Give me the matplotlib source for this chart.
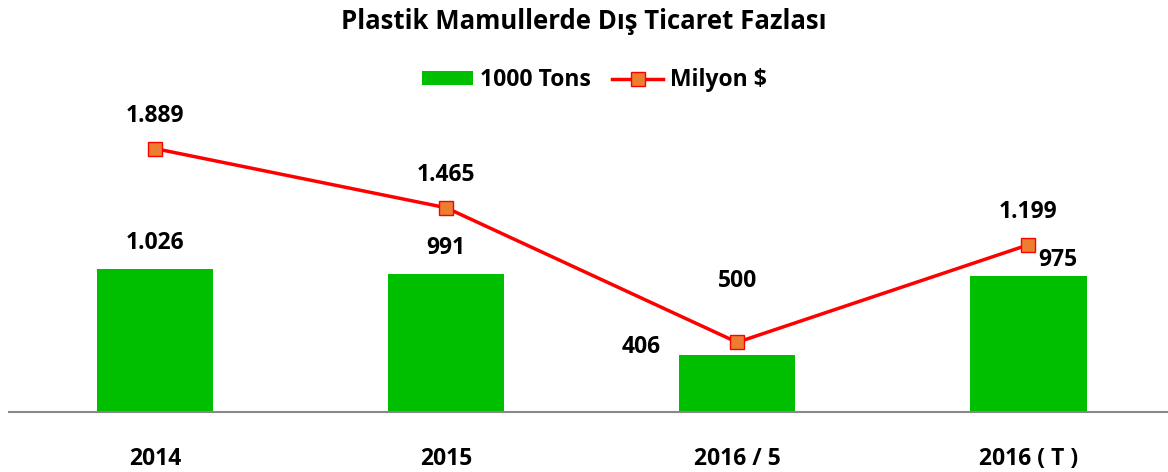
import matplotlib
matplotlib.use("Agg")
import matplotlib.pyplot as plt

categories = ["2014", "2015", "2016 / 5", "2016 ( T )"]
tons = [1026, 991, 406, 975]
milyon = [1889, 1465, 500, 1199]
tons_labels = ["1.026", "991", "406", "975"]
milyon_labels = ["1.889", "1.465", "500", "1.199"]

plt.rcParams['font.family'] = ['Open Sans', 'DejaVu Sans']
plt.rcParams['font.weight'] = 'bold'

fig = plt.figure(figsize=(11.68, 4.72), dpi=100)
ax = fig.add_axes([0.008, 0.127, 0.997, 0.672])

x = list(range(len(categories)))
bars = ax.bar(x, tons, width=0.4, color='#00BF00', label='1000 Tons', zorder=2)
line, = ax.plot(x, milyon, color='#FF0000', lw=2.5, marker='s', markersize=10,
                markerfacecolor='#ED7D31', markeredgecolor='#FF0000', markeredgewidth=1,
                label='Milyon $', zorder=3)

ax.set_xlim(-0.5, 3.5)
ax.set_ylim(0, 2274)

fs = 16.5

# bar value labels
offsets_bar = [(0, 26), (0, 26), (-0.33, 8), (0.1, 16)]
for i, (v, lab) in enumerate(zip(tons, tons_labels)):
    dx, dy = offsets_bar[i]
    ax.annotate(lab, (i + dx, v), xytext=(0, dy), textcoords='offset pixels',
                ha='center', va='center', fontsize=fs, fontweight='bold')

# line value labels
offsets_line = [33, 33, 61, 33]
for i, (v, lab) in enumerate(zip(milyon, milyon_labels)):
    ax.annotate(lab, (i, v), xytext=(0, offsets_line[i]), textcoords='offset pixels',
                ha='center', va='center', fontsize=fs, fontweight='bold')

for s in ['top', 'right', 'left']:
    ax.spines[s].set_visible(False)
ax.spines['bottom'].set_color('#888888')
ax.spines['bottom'].set_linewidth(1.5)
ax.set_yticks([])
ax.set_xticks(x)
ax.set_xticklabels(categories, fontsize=fs, fontweight='bold')
ax.tick_params(axis='x', length=0, pad=25)

fig.text(0.5, 0.955, "Plastik Mamullerde Dış Ticaret Fazlası", ha='center', va='center',
         fontsize=18.5, fontweight='bold')

fig.legend([bars, line], ['1000 Tons', 'Milyon $'], loc='center',
           bbox_to_anchor=(0.509, 0.83), ncol=2, frameon=False,
           handlelength=2.2, handleheight=0.6, handletextpad=0.3, columnspacing=0.95,
           prop={'weight': 'bold', 'size': fs})

fig.savefig("out.png", dpi=100)
